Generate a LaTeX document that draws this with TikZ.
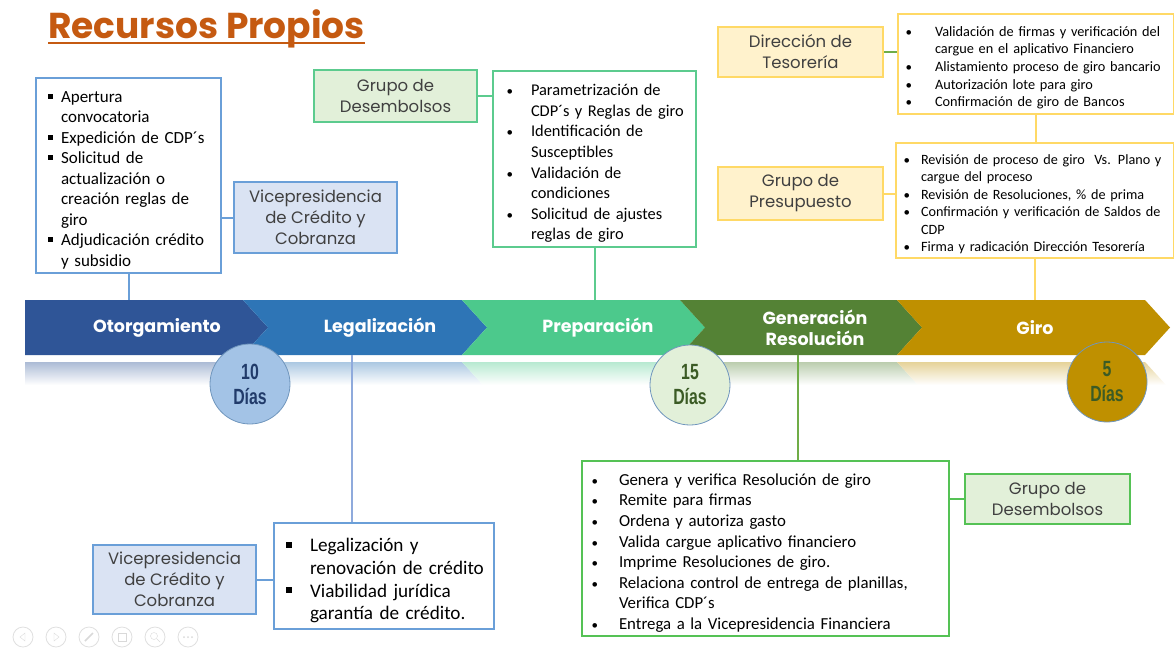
\documentclass[tikz,border=0pt]{standalone}
\usepackage{fontspec,enumitem}
\setmainfont{Carlito}
\newfontfamily\gothic{Poppins}
\newfontfamily\daysfont[FakeStretch=0.72]{Liberation Sans}
\usetikzlibrary{calc}
\definecolor{titleor}{HTML}{C55A11}
\definecolor{bluebd}{HTML}{6A9FD8}
\definecolor{bluefl}{HTML}{DAE3F3}
\definecolor{bluecn}{HTML}{8FAADC}
\definecolor{mintbd}{HTML}{5CCB8E}
\definecolor{greenfl}{HTML}{E2F0D9}
\definecolor{greenbd}{HTML}{55C255}
\definecolor{greencn}{HTML}{70AD47}
\definecolor{goldbd}{HTML}{FFD966}
\definecolor{goldfl}{HTML}{FFF2CC}
\definecolor{segA}{HTML}{2F5597}
\definecolor{segB}{HTML}{2E75B6}
\definecolor{segC}{HTML}{4CC98C}
\definecolor{segD}{HTML}{548235}
\definecolor{segE}{HTML}{BF9000}
\definecolor{tagtxt}{HTML}{404040}
\setlist[itemize]{nosep}
\newcommand{\sqbul}{\rule[0.2em]{0.3em}{0.3em}}
\newcommand{\dotbul}{{\fontsize{13}{13}\selectfont•}}

\begin{document}
\begin{tikzpicture}[x=1pt,y=-1pt,
 lst/.style={draw=#1,fill=white,line width=2pt,anchor=north west,inner sep=0pt,align=left},
 tag/.style 2 args={draw=#1,fill=#2,line width=2pt,inner sep=0pt,align=center,text=tagtxt,
  font=\gothic\fontsize{16.5}{21}\selectfont},
 day/.style 2 args={circle,draw=bluebd!70!gray,line width=.8pt,fill=#1,text=#2,minimum size=80,
  inner sep=0pt,align=center,font=\daysfont\bfseries\fontsize{22}{25}\selectfont},
 seglbl/.style={text=white,align=center,font=\gothic\bfseries\fontsize{17.5}{21}\selectfont}]
 \useasboundingbox (0,0) rectangle (1174,648);
 \node[anchor=base west,inner sep=0pt,text=titleor,font=\gothic\bfseries\fontsize{36}{36}\selectfont]
  (ttl) at (48,38) {Recursos Propios};
 \draw[titleor,line width=2pt] ([yshift=-5pt]ttl.base west) -- ([yshift=-5pt]ttl.base east);
 % band with its reflection
 \coordinate (bandtop) at (0,300);
 \foreach \l/\n/\t/\c/\lx/\txt [count=\i] in {25/0/268/segA/157/Otorgamiento,
   243/25/487/segB/380/Legalización, 462/25/705/segC/598/Preparación,
   680/25/922/segD/815/{Generación\\Resolución}, 897/25/1170/segE/1035/Giro}{
  \shade[top color=\c!40,bottom color=white] (\l,362) -- (\t-25,362) -- (\t-4,385) -- (\l+0.84*\n,385) -- cycle;
  \fill[\c] (\l,300) -- (\t-25,300) -- (\t,327.5) -- (\t-25,355) -- (\l,355) -- (\l+\n,327.5) -- cycle;
  \node[seglbl] (seg\i) at (\lx,327.5) {\txt};
 }
 % upper boxes
 \node[lst=bluebd,minimum width=185,minimum height=195,text width=185,font=\fontsize{17}{20.5}\selectfont]
  (otb) at (35,77) {\begin{itemize}[leftmargin=25pt,labelsep=8pt,label=\sqbul]
  \item Apertura\\convocatoria
  \item Expedición de CDP´s
  \item Solicitud de\\actualización o\\creación reglas de\\giro
  \item Adjudicación crédito\\y subsidio
  \end{itemize}};
 \node[tag={bluebd}{bluefl},minimum width=163,minimum height=71] (vpc1) at (315.5,217.5)
  {Vicepresidencia\\de Crédito y\\Cobranza};
 \draw[bluebd,line width=2pt] (vpc1.west) -- (vpc1.west -| otb.east);
 \draw[bluebd,line width=2pt] (otb.south) -- (otb.south |- bandtop);
 \node[lst=mintbd,minimum width=203,minimum height=176,text width=203,font=\fontsize{16.4}{20.6}\selectfont]
  (prb) at (492,70) {\begin{itemize}[leftmargin=38pt,labelsep=18pt,label=\dotbul]
  \item Parametrización de\\CDP´s y Reglas de giro
  \item Identificación de\\Susceptibles
  \item Validación de\\condiciones
  \item Solicitud de ajustes\\reglas de giro
  \end{itemize}};
 \node[tag={mintbd}{greenfl},minimum width=163,minimum height=52] (gdt) at (395.5,96)
  {Grupo de\\Desembolsos};
 \draw[mintbd,line width=2pt] (gdt.east) -- (gdt.east -| prb.west);
 \draw[mintbd,line width=2pt] (prb.south) -- (prb.south |- bandtop);
 \node[lst=goldbd,minimum width=276,minimum height=100,text width=276,font=\fontsize{14.3}{17.6}\selectfont]
  (grb1) at (897,13) {\begin{itemize}[leftmargin=37pt,labelsep=23pt,label=\dotbul]
  \item Validación de firmas y verificación del\\cargue en el aplicativo Financiero
  \item Alistamiento proceso de giro bancario
  \item Autorización lote para giro
  \item Confirmación de giro de Bancos
  \end{itemize}};
 \node[tag={goldbd}{goldfl},minimum width=165,minimum height=50] (dts) at (800.5,52)
  {Dirección de\\Tesorería};
 \draw[greencn,line width=2pt] (dts.east) -- (dts.east -| grb1.west);
 \node[lst=goldbd,minimum width=278,minimum height=115,text width=278,font=\fontsize{14.2}{17.5}\selectfont]
  (grb2) at (895,142) {\begin{itemize}[leftmargin=25pt,labelsep=11pt,label=\dotbul]
  \item Revisión de proceso de giro\ \ Vs. Plano y\\cargue del proceso
  \item Revisión de Resoluciones, \% de prima
  \item Confirmación y verificación de Saldos de\\CDP
  \item Firma y radicación Dirección Tesorería
  \end{itemize}};
 \node[tag={goldbd}{goldfl},minimum width=165,minimum height=53] (gps) at (800.5,193.5)
  {Grupo de\\Presupuesto};
 \draw[goldbd,line width=2pt] (gps.east) -- (gps.east -| grb2.west);
 \draw[goldbd,line width=2pt] (grb1.south) -- (grb1.south |- grb2.north);
 \draw[goldbd,line width=2pt] (grb2.south) -- (grb2.south |- bandtop);
 % lower boxes
 \node[lst=bluebd,minimum width=220,minimum height=106,text width=220,font=\fontsize{19.2}{22.7}\selectfont]
  (lgb) at (273,522) {\begin{itemize}[leftmargin=36pt,labelsep=18pt,label=\sqbul]
  \item Legalización y\\renovación de crédito
  \item Viabilidad jurídica\\garantía de crédito.
  \end{itemize}};
 \node[tag={bluebd}{bluefl},minimum width=163,minimum height=69] (vpc2) at (174.5,579.5)
  {Vicepresidencia\\de Crédito y\\Cobranza};
 \draw[bluebd,line width=2pt] (vpc2.east) -- (vpc2.east -| lgb.west);
 \coordinate (lgtop) at (352,355);
 \draw[bluecn,line width=2pt] (lgtop) -- (lgtop |- lgb.north);
 \node[lst=greenbd,minimum width=367,minimum height=175,text width=367,font=\fontsize{16.8}{20.6}\selectfont]
  (gnb) at (581,460) {\begin{itemize}[leftmargin=37pt,labelsep=21pt,label=\dotbul]
  \item Genera y verifica Resolución de giro
  \item Remite para firmas
  \item Ordena y autoriza gasto
  \item Valida cargue aplicativo financiero
  \item Imprime Resoluciones de giro.
  \item Relaciona control de entrega de planillas,\\Verifica CDP´s
  \item Entrega a la Vicepresidencia Financiera
  \end{itemize}};
 \node[tag={greenbd}{greenfl},minimum width=165,minimum height=50] (gdb) at (1047.5,499)
  {Grupo de\\Desembolsos};
 \draw[greenbd,line width=2pt] (gdb.west) -- (gdb.west -| gnb.east);
 \coordinate (gntop) at (798,355);
 \draw[greencn,line width=2pt] (gntop) -- (gntop |- gnb.north);
 % days
 \node[day={bluefl!30!bluebd!80}{segA!70!black}] (c10) at (250,384) {10\\Días};
 \node[day={greenfl}{segD!70!black}] (c15) at (690,385) {15\\Días};
 \node[day={segE}{segD!70!black}] (c5) at (1107,382) {5\\Días};
 % slide buttons
 \foreach \x in {23,56,89,122,155,188}
  \draw[gray!25,line width=.8pt] (\x,637) circle (10);
 \draw[gray!30] (20,637) -- (25,633) -- (25,641) -- cycle;
 \draw[gray!30] (59,637) -- (54,633) -- (54,641) -- cycle;
 \draw[gray!30,line width=1.5pt] (85,641) -- (93,633);
 \draw[gray!30] (118,633) rectangle (126,641);
 \draw[gray!30] (154,636) circle (3.5) (157,639) -- (160,642);
 \foreach \x in {184,188,192} \fill[gray!30] (\x,637) circle (1);
\end{tikzpicture}
\end{document}
